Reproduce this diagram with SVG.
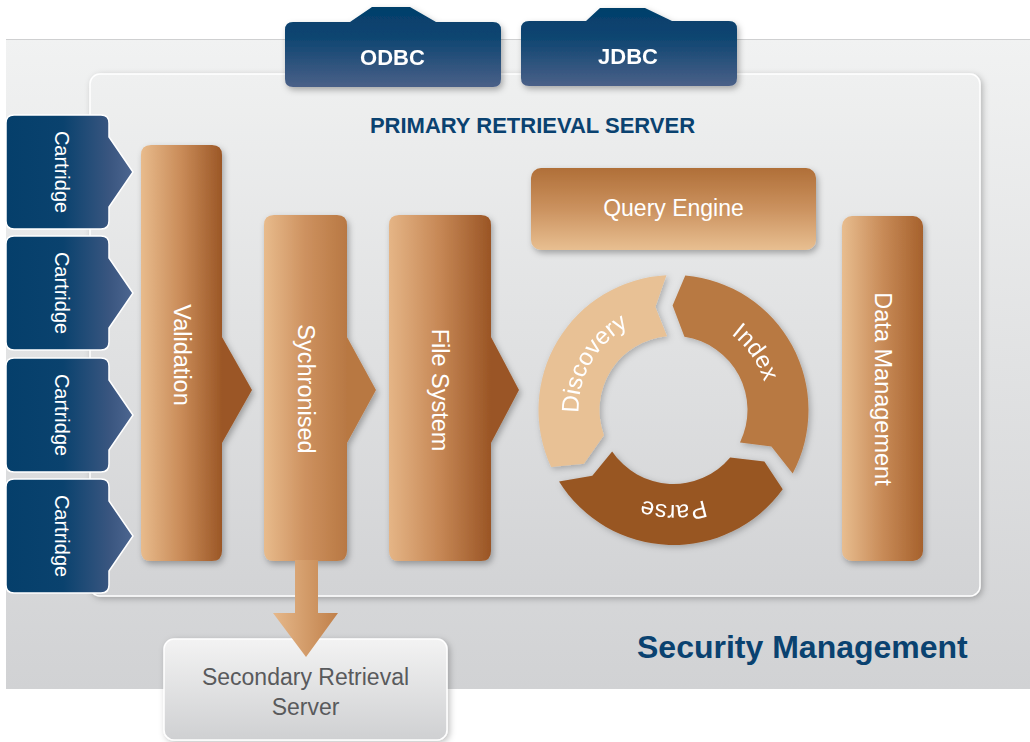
<svg xmlns="http://www.w3.org/2000/svg" width="1030" height="742" viewBox="0 0 1030 742">
<style>
.w{fill:#fff;font-family:"Liberation Sans",Arial,sans-serif}
.navy{fill:#0a4270;font-family:"Liberation Sans",Arial,sans-serif;font-weight:bold}
.tab{fill:#fff;font-family:"Liberation Sans",Arial,sans-serif;font-weight:bold;font-size:22px}
.col{font-size:23.5px}
.ring{font-size:24px}
</style>
<defs>
<filter id="sh" x="-20%" y="-20%" width="140%" height="140%"><feDropShadow dx="2" dy="3" stdDeviation="3" flood-color="#000" flood-opacity="0.3"/></filter>
<filter id="sh2" x="-10%" y="-10%" width="120%" height="120%"><feDropShadow dx="2" dy="2" stdDeviation="3" flood-color="#000" flood-opacity="0.25"/></filter>
<linearGradient id="band" x1="0" y1="0" x2="0" y2="1"><stop offset="0" stop-color="#f1f2f2"/><stop offset="1" stop-color="#d1d2d4"/></linearGradient>
<linearGradient id="panel" x1="0" y1="0" x2="0" y2="1"><stop offset="0" stop-color="#eff0f0"/><stop offset="1" stop-color="#d2d3d5"/></linearGradient>
<linearGradient id="navyv" x1="0" y1="0" x2="0" y2="1"><stop offset="0" stop-color="#043f6b"/><stop offset="0.35" stop-color="#0b4470"/><stop offset="1" stop-color="#4a6088"/></linearGradient>
<linearGradient id="navyh" x1="0" y1="0" x2="1" y2="0"><stop offset="0" stop-color="#053f6b"/><stop offset="0.45" stop-color="#0a426e"/><stop offset="0.82" stop-color="#3a5680"/><stop offset="1" stop-color="#4d6690"/></linearGradient>
<linearGradient id="c1" gradientUnits="userSpaceOnUse" x1="141" y1="0" x2="222" y2="0"><stop offset="0" stop-color="#e8bb8c"/><stop offset="0.5" stop-color="#c98b58"/><stop offset="1" stop-color="#9b5726"/></linearGradient>
<linearGradient id="c2" gradientUnits="userSpaceOnUse" x1="264" y1="0" x2="347" y2="0"><stop offset="0" stop-color="#e8bb8c"/><stop offset="0.5" stop-color="#cd915f"/><stop offset="1" stop-color="#b87843"/></linearGradient>
<linearGradient id="c3" gradientUnits="userSpaceOnUse" x1="389" y1="0" x2="491" y2="0"><stop offset="0" stop-color="#e5b586"/><stop offset="0.5" stop-color="#c68755"/><stop offset="1" stop-color="#9a5525"/></linearGradient>
<linearGradient id="c4" x1="0" y1="0" x2="1" y2="0"><stop offset="0" stop-color="#e8bd8f"/><stop offset="0.5" stop-color="#c88b58"/><stop offset="1" stop-color="#a6612c"/></linearGradient>
<linearGradient id="qe" x1="0" y1="0" x2="0" y2="1"><stop offset="0" stop-color="#b06f38"/><stop offset="0.5" stop-color="#cb925f"/><stop offset="1" stop-color="#e8bf91"/></linearGradient>
<linearGradient id="arr" x1="0" y1="0" x2="1" y2="0"><stop offset="0" stop-color="#e6b88a"/><stop offset="1" stop-color="#c0804a"/></linearGradient>
<linearGradient id="sec" x1="0" y1="0" x2="0" y2="1"><stop offset="0" stop-color="#f3f3f3"/><stop offset="1" stop-color="#cfd0d2"/></linearGradient>
<path id="cart" d="M8 0 H95 Q103 0 103 8 V22 L127 57 L103 92 V106 Q103 114 95 114 H8 Q0 114 0 106 V8 Q0 0 8 0 Z"/>
<path id="tDisc" d="M591.23 457.5 A95 95 0 0 1 673.5 315"/>
<path id="tIdx" d="M665.22 315.36 A95 95 0 0 1 759.6 450.15"/>
<path id="tParse" d="M755.77 457.5 A95 95 0 0 1 591.23 457.5"/>
</defs>

<g id="security-management">
<rect x="6" y="39" width="1024" height="650" fill="url(#band)"/>
<line x1="6" y1="39.5" x2="1030" y2="39.5" stroke="#cfd0d1" stroke-width="1"/>
<text class="navy" x="637" y="658" font-size="32">Security Management</text>
</g>

<g id="primary-retrieval-server">
<rect x="90" y="74" width="890" height="522" rx="10" fill="url(#panel)" stroke="#fff" stroke-width="1.5" filter="url(#sh2)"/>
<text class="navy" x="532.5" y="133" font-size="22" text-anchor="middle">PRIMARY RETRIEVAL SERVER</text>
</g>

<g id="odbc" filter="url(#sh)">
<path d="M293 22 H350 L372 7 H410 L436 22 H493 Q501 22 501 30 V79 Q501 87 493 87 H293 Q285 87 285 79 V30 Q285 22 293 22 Z" fill="url(#navyv)"/>
<text class="tab" x="392.5" y="65" text-anchor="middle">ODBC</text>
</g>
<g id="jdbc" filter="url(#sh)">
<path d="M529 21 H586 L600 8 H645 L672 21 H729 Q737 21 737 29 V78 Q737 86 729 86 H529 Q521 86 521 78 V29 Q521 21 529 21 Z" fill="url(#navyv)"/>
<text class="tab" x="628" y="64" text-anchor="middle">JDBC</text>
</g>

<g id="cartridge-1" transform="translate(6,115)"><use href="#cart" fill="url(#navyh)" stroke="#fff" stroke-width="1.5"/><text class="w" font-size="20" transform="translate(56,57) rotate(90)" x="0" y="7" text-anchor="middle">Cartridge</text></g>
<g id="cartridge-2" transform="translate(6,236)"><use href="#cart" fill="url(#navyh)" stroke="#fff" stroke-width="1.5"/><text class="w" font-size="20" transform="translate(56,57) rotate(90)" x="0" y="7" text-anchor="middle">Cartridge</text></g>
<g id="cartridge-3" transform="translate(6,358)"><use href="#cart" fill="url(#navyh)" stroke="#fff" stroke-width="1.5"/><text class="w" font-size="20" transform="translate(56,57) rotate(90)" x="0" y="7" text-anchor="middle">Cartridge</text></g>
<g id="cartridge-4" transform="translate(6,479)"><use href="#cart" fill="url(#navyh)" stroke="#fff" stroke-width="1.5"/><text class="w" font-size="20" transform="translate(56,57) rotate(90)" x="0" y="7" text-anchor="middle">Cartridge</text></g>

<g id="validation">
<path d="M151 145 H212 Q222 145 222 155 V337 L252 390 L222 443 V551 Q222 561 212 561 H151 Q141 561 141 551 V155 Q141 145 151 145 Z" fill="url(#c1)" filter="url(#sh)"/>
<text class="w col" transform="translate(181.5,355) rotate(90)" x="0" y="8" text-anchor="middle">Validation</text>
</g>

<g id="secondary-retrieval-server">
<rect x="164" y="639" width="283" height="101" rx="10" fill="url(#sec)" stroke="#fff" stroke-width="1.5" filter="url(#sh2)"/>
<text x="305.5" y="685" font-size="23" fill="#595a5c" font-family="Liberation Sans, Arial, sans-serif" text-anchor="middle">Secondary Retrieval</text>
<text x="305.5" y="715" font-size="23" fill="#595a5c" font-family="Liberation Sans, Arial, sans-serif" text-anchor="middle">Server</text>
</g>

<g id="sychronised">
<path d="M274 215 H337 Q347 215 347 225 V337 L376 390 L347 443 V551 Q347 561 337 561 H274 Q264 561 264 551 V225 Q264 215 274 215 Z" fill="url(#c2)" filter="url(#sh)"/>
<text class="w col" transform="translate(305.5,389) rotate(90)" x="0" y="8" text-anchor="middle">Sychronised</text>
</g>

<g id="file-system">
<path d="M399 215 H481 Q491 215 491 225 V337 L519 390 L491 443 V551 Q491 561 481 561 H399 Q389 561 389 551 V225 Q389 215 399 215 Z" fill="url(#c3)" filter="url(#sh)"/>
<text class="w col" transform="translate(440,390) rotate(90)" x="0" y="8" text-anchor="middle">File System</text>
</g>

<g id="query-engine">
<rect x="531" y="168" width="285" height="82" rx="10" fill="url(#qe)" filter="url(#sh)"/>
<text class="w" x="673.5" y="216" font-size="23" text-anchor="middle">Query Engine</text>
</g>

<g id="data-management">
<rect x="842" y="216" width="81" height="345" rx="10" fill="url(#c4)" filter="url(#sh)"/>
<text class="w col" transform="translate(882.5,389) rotate(90)" x="0" y="8" text-anchor="middle">Data Management</text>
</g>

<g id="discovery" filter="url(#sh2)">
<path d="M551.15 467.05 A135 135 0 0 1 666.44 275.19 L655.36 307.09 L667.05 336.28 A74 74 0 0 0 603.96 435.31 L583.92 463.82 Z" fill="#e8c195"/>
<text class="w ring"><textPath href="#tDisc" startOffset="50%" text-anchor="middle">Discovery</textPath></text>
</g>
<g id="index" filter="url(#sh2)">
<path d="M685.27 275.51 A135 135 0 0 1 792.69 473.38 L771.39 446.6 L740.01 442.44 A74 74 0 0 0 684.44 336.81 L672.59 305.5 Z" fill="#b87943"/>
<text class="w ring"><textPath href="#tIdx" startOffset="50%" text-anchor="middle">Index</textPath></text>
</g>
<g id="parse" filter="url(#sh2)">
<path d="M782.72 489.35 A135 135 0 0 1 559.02 481.54 L592.29 475.76 L612.15 451.38 A74 74 0 0 0 730.18 457.57 L764.36 461.61 Z" fill="#985624"/>
<text class="w ring" font-size="23"><textPath href="#tParse" startOffset="50%" text-anchor="middle">Parse</textPath></text>
</g>

<g id="connectors">
<path d="M295 560 H318 V613 H338 L306 657 L273 613 H295 Z" fill="url(#arr)"/>
</g>
</svg>
